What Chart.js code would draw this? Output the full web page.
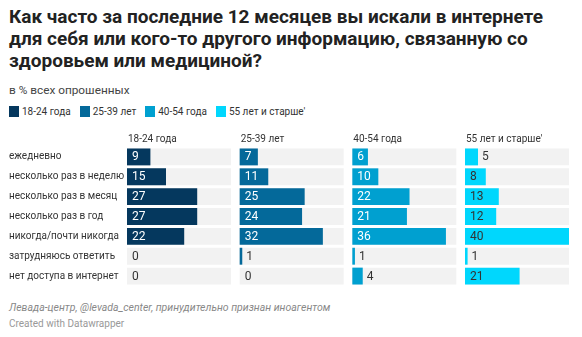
<!DOCTYPE html>
<html lang="ru">
<head>
<meta charset="utf-8">
<script src="https://cdn.jsdelivr.net/npm/chart.js@4"></script>
<style>
  html, body { margin: 0; padding: 0; background: #fff; }
  body { width: 582px; height: 337px; position: relative; overflow: hidden; font-family: Roboto, sans-serif; color: #333; }
  h1 { position: absolute; left: 9px; top: 6px; margin: 0; width: 565px; font-size: 19px; line-height: 22px; font-weight: 700; color: #222; }
  .sub { position: absolute; left: 9px; top: 83px; font-size: 11.8px; color: #444; }
  .legend { position: absolute; left: 9px; top: 106px; font-size: 10px; color: #333; display: flex; }
  .legend span { display: inline-flex; align-items: center; margin-right: 9px; }
  .legend i { display: inline-block; width: 10px; height: 11px; margin-right: 3px; }
  #wrap { position: absolute; left: 0; top: 125px; width: 582px; height: 167px; }
  .src { position: absolute; left: 9px; top: 301px; font-size: 10.5px; font-style: italic; color: #888; }
  .credit { position: absolute; left: 9px; top: 318px; font-size: 10px; color: #999; }
</style>
</head>
<body>
<h1>Как часто за последние 12 месяцев вы искали в интернете для себя или кого-то другого информацию, связанную со здоровьем или медициной?</h1>
<div class="sub">в % всех опрошенных</div>
<div class="legend" id="legend"></div>
<div id="wrap"><canvas id="bars"></canvas></div>
<div class="src">Левада-центр, @levada_center, принудительно признан иноагентом</div>
<div class="credit">Created with Datawrapper</div>
<script>
'use strict';

// ---- data ----
const categories = ['ежедневно', 'несколько раз в неделю', 'несколько раз в месяц', 'несколько раз в год',
  'никогда/почти никогда', 'затрудняюсь ответить', 'нет доступа в интернет'];
const groups = ['18-24 года', '25-39 лет', '40-54 года', '55 лет и старше\''];
const age18_24 = [9, 15, 27, 27, 22, 0, 0];
const age25_39 = [7, 11, 25, 24, 32, 1, 0];
const age40_54 = [6, 10, 22, 21, 36, 1, 4];
const age55plus = [5, 8, 13, 12, 40, 1, 21];
const colors = ['#05385e', '#04699a', '#00a0d0', '#00d7fd'];
const labelInk = ['#fff', '#fff', '#fff', '#333'];

const series = [age18_24, age25_39, age40_54, age55plus];
const panelMax = 40;
const gap = 3.33; // between panels, in value units
const offset = (i) => i * (panelMax + gap);

// ---- legend ----
document.getElementById('legend').innerHTML = groups.map((g, i) =>
  `<span><i style="background:${colors[i]}"></i>${g}</span>`).join('');

// ---- datasets: grey track + value bar for each panel ----
const datasets = [];
series.forEach((vals, i) => {
  datasets.push({
    data: vals.map(() => [offset(i), offset(i) + panelMax]),
    backgroundColor: '#f2f2f2', grouped: false, order: 2,
    barPercentage: 0.85, categoryPercentage: 1
  });
  datasets.push({
    data: vals.map(v => [offset(i), offset(i) + v]),
    backgroundColor: colors[i], grouped: false, order: 1, panel: i,
    barPercentage: 0.85, categoryPercentage: 1
  });
});

// ---- labels plugin ----
const labelsPlugin = {
  id: 'panelLabels',
  afterDatasetsDraw(chart) {
    const { ctx, scales: { x } } = chart;
    ctx.save();
    ctx.textBaseline = 'middle';
    // column headers
    ctx.font = '10px Roboto';
    ctx.fillStyle = '#333';
    groups.forEach((g, i) => ctx.fillText(g, x.getPixelForValue(offset(i)) + 1, 14));
    ctx.font = '12px Roboto';
    chart.data.datasets.forEach((ds, di) => {
      if (ds.panel === undefined) return;
      const meta = chart.getDatasetMeta(di);
      const vals = series[ds.panel];
      meta.data.forEach((bar, k) => {
        const v = vals[k];
        const start = x.getPixelForValue(offset(ds.panel));
        const end = x.getPixelForValue(offset(ds.panel) + v);
        let tx, col;
        if (v === 0) { tx = start + 5; col = '#333'; }
        else if (v < 6) { tx = end + 4; col = '#333'; }
        else { tx = start + 5; col = labelInk[ds.panel]; }
        ctx.fillStyle = col;
        ctx.fillText(String(v), tx, bar.y + 0.5);
      });
    });
    ctx.restore();
  }
};

new Chart(document.getElementById('bars'), {
  type: 'bar',
  data: { labels: categories, datasets },
  options: {
    indexAxis: 'y',
    responsive: true,
    maintainAspectRatio: false,
    animation: false,
    layout: { padding: { top: 22, bottom: 5, right: 13, left: 9 } },
    plugins: { legend: { display: false }, tooltip: { enabled: false } },
    scales: {
      x: { display: false, min: 0, max: offset(3) + panelMax },
      y: {
        grid: { display: false }, border: { display: false },
        ticks: { crossAlign: 'far', color: '#333', font: { family: 'Roboto', size: 10 }, padding: 0 },
        afterFit: (s) => { s.width = 118; }
      }
    }
  },
  plugins: [labelsPlugin]
});
</script>
</body>
</html>
